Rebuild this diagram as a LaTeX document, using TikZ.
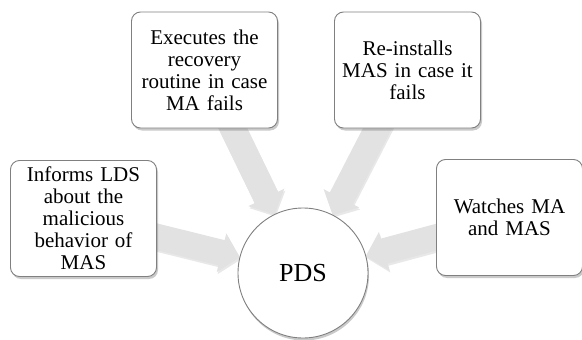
\documentclass[tikz,border=0pt]{standalone}
\usepackage{fontspec}
\setmainfont{Liberation Serif}
\usetikzlibrary{calc,shadows,backgrounds}
\definecolor{arrowgray}{RGB}{226,226,226}
\definecolor{edgegray}{RGB}{128,128,128}
\tikzset{
  boxnode/.style={draw=edgegray, line width=0.9pt, fill=white, rounded corners=9pt,
    minimum width=146pt, minimum height=116pt, inner sep=0pt, text width=140pt,
    align=center, font=\fontsize{21}{22}\selectfont,
    drop shadow={shadow xshift=1.5pt, shadow yshift=-2.5pt, opacity=0.35, fill=black!60}},
  circnode/.style={draw=edgegray, line width=0.9pt, fill=white, circle, minimum size=130pt,
    inner sep=0pt, font=\fontsize{26}{28}\selectfont,
    drop shadow={shadow xshift=1pt, shadow yshift=-2.5pt, opacity=0.35, fill=black!60}},
  arrowbody/.style={fill=arrowgray,
    drop shadow={shadow xshift=1pt, shadow yshift=-2pt, opacity=0.18, fill=black!50}}
}
% block arrow from node #1 to circle node #2 (radius 65pt)
\newcommand\bigarrow[2]{%
  \fill[arrowbody]
    ($(#1)!13pt!90:(#2)$) --
    ($($(#2)!84pt!(#1)$)!13pt!90:(#2)$) --
    ($($(#2)!84pt!(#1)$)!20pt!90:(#2)$) --
    ($(#2)!65pt!(#1)$) --
    ($($(#2)!84pt!(#1)$)!20pt!-90:(#2)$) --
    ($($(#2)!84pt!(#1)$)!13pt!-90:(#2)$) --
    ($(#1)!13pt!-90:(#2)$) -- cycle;}
\begin{document}
\begin{tikzpicture}[x=1pt,y=-1pt]
\useasboundingbox (0,0) rectangle (582,340);
\node[boxnode] (b1) at (83.5,218.5) {Informs LDS\\about the\\malicious\\behavior of\\MAS};
\node[boxnode] (b2) at (204.5,70) {Executes the\\recovery\\routine in case\\MA fails};
\node[boxnode] (b3) at (407.5,70) {Re-installs\\MAS in case it\\fails};
\node[boxnode] (b4) at (509.5,217.5) {Watches MA\\and MAS};
\node[circnode] (pds) at (303,273) {PDS};
\begin{pgfonlayer}{background}
\bigarrow{b1}{pds}
\bigarrow{b2}{pds}
\bigarrow{b3}{pds}
\bigarrow{b4}{pds}
\end{pgfonlayer}
\end{tikzpicture}
\end{document}
